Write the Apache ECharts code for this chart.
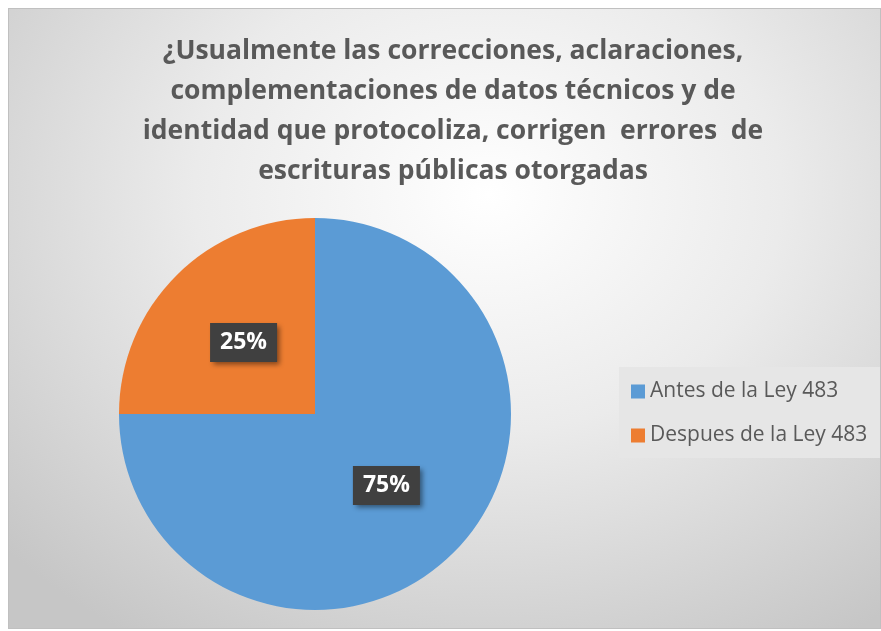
<!DOCTYPE html>
<html>
  <head>
    <meta charset="utf-8" />
    <title></title>
    <style>
      body {
        margin: 0;
        padding: 0;
        background: #ffffff;
      }
      #chart {
        position: absolute;
        left: 8px;
        top: 8px;
        width: 873px;
        height: 621px;
        box-sizing: border-box;
        border: 1px solid #c0c0c0;
        background: radial-gradient(ellipse 75% 85% at 55% 30%, #ffffff 0%, #ebebeb 45%, #c6c6c6 100%);
      }
    </style>
    <script src="https://cdn.jsdelivr.net/npm/echarts@6/dist/echarts.min.js"></script>
  </head>
  <body>
    <div id="chart"></div>
  </body>
  <script>
    // datos
    const titleLines = [
      "¿Usualmente las correcciones, aclaraciones,",
      "complementaciones de datos técnicos y de",
      "identidad que protocoliza, corrigen  errores  de",
      "escrituras públicas otorgadas",
    ];
    const categories = ["Antes de la Ley 483", "Despues de la Ley 483"];
    const values = [75, 25];
    const colors = ["#5b9bd5", "#ed7d31"];

    const font = "'Open Sans', 'Liberation Sans', sans-serif";

    let pieData = categories.map((name, i) => {
      return { name: name, value: values[i], itemStyle: { color: colors[i] } };
    });

    const myChart = echarts.init(document.getElementById("chart"));
    myChart.setOption({
      animation: false,
      title: {
        text: titleLines.join("\n"),
        left: 444,
        textAlign: "center",
        top: 22,
        padding: 0,
        textStyle: {
          fontFamily: font,
          fontSize: 26.5,
          fontWeight: "bold",
          color: "#595959",
          lineHeight: 40,
        },
      },
      legend: {
        orient: "vertical",
        left: 610,
        top: 358,
        padding: [14, 14, 12, 12],
        backgroundColor: "#e6e6e6",
        icon: "rect",
        itemWidth: 14,
        itemHeight: 14,
        itemGap: 23,
        textStyle: {
          fontFamily: font,
          fontSize: 21,
          color: "#595959",
        },
        data: categories,
      },
      series: [
        {
          type: "pie",
          center: [306, 405],
          radius: 196,
          startAngle: 90,
          clockwise: true,
          silent: true,
          itemStyle: { borderWidth: 0 },
          label: {
            show: true,
            position: "inside",
            formatter: "{d}%",
            fontFamily: font,
            fontSize: 23,
            fontWeight: "bold",
            color: "#ffffff",
            backgroundColor: "#404040",
            padding: [9, 10, 7, 10],
            shadowColor: "rgba(0,0,0,0.45)",
            shadowBlur: 5,
            shadowOffsetX: 3,
            shadowOffsetY: 3,
          },
          labelLine: { show: false },
          data: pieData,
        },
      ],
    });
  </script>
</html>
